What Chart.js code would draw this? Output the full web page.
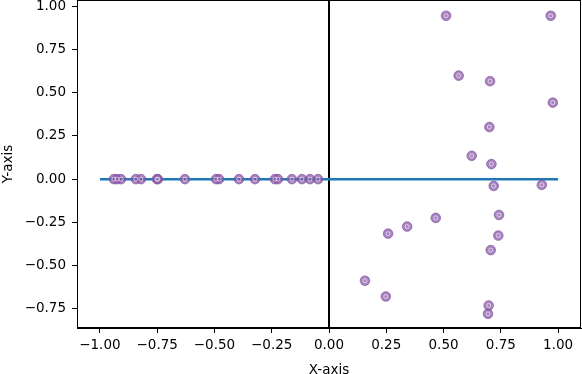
<!DOCTYPE html>
<html>
<head>
<meta charset="utf-8">
<script src="https://cdn.jsdelivr.net/npm/chart.js@4/dist/chart.umd.min.js"></script>
<style>
  html, body { margin: 0; padding: 0; background: #fff; }
  #wrap { width: 582px; height: 374px; }
</style>
</head>
<body>
<div id="wrap"><canvas id="myChart"></canvas></div>
<script>
// points lying on the y = 0 line (left half)
const lineXs = [-0.939, -0.926, -0.908, -0.843, -0.821, -0.751, -0.747, -0.629, -0.493, -0.480,
                -0.393, -0.323, -0.236, -0.223, -0.162, -0.118, -0.083, -0.048];
// scattered points (right half)
const scatterXs = [0.511, 0.968, 0.566, 0.703, 0.977, 0.700, 0.623, 0.709, 0.719, 0.929,
                   0.742, 0.341, 0.466, 0.258, 0.739, 0.706, 0.157, 0.248, 0.697, 0.694];
const scatterYs = [0.944, 0.944, 0.598, 0.566, 0.442, 0.301, 0.135, 0.087, -0.039, -0.033,
                   -0.207, -0.274, -0.224, -0.315, -0.326, -0.410, -0.587, -0.678, -0.730, -0.778];
// horizontal reference line
const hLineXs = [-1, 1];
const hLineYs = [0, 0];
// tick labels
const xTicks = [-1, -0.75, -0.5, -0.25, 0, 0.25, 0.5, 0.75, 1];
const yTicks = [-0.75, -0.5, -0.25, 0, 0.25, 0.5, 0.75, 1];

var points = [];
lineXs.forEach(function(x){ points.push({x: x, y: 0}); });
scatterXs.forEach(function(x, i){ points.push({x: x, y: scatterYs[i]}); });

var purple = 'rgba(135, 85, 165, 0.72)';
var fmt = function(v){ return v.toFixed(2).replace('-', '\u2212'); };
var font = {family: 'DejaVu Sans', size: 13.5};

//box around the plot and the x = 0 line
var framePlugin = {
	id: 'frame',
	beforeDatasetsDraw: function(chart){
		var a = chart.chartArea, ctx = chart.ctx;
		var x0 = chart.scales.x.getPixelForValue(0);
		ctx.save();
		ctx.strokeStyle = '#000';
		ctx.lineWidth = 2;
		ctx.beginPath();
		ctx.moveTo(x0, a.top);
		ctx.lineTo(x0, a.bottom);
		ctx.stroke();
		ctx.restore();
	},
	afterDraw: function(chart){
		var a = chart.chartArea, ctx = chart.ctx;
		ctx.save();
		ctx.strokeStyle = '#000';
		ctx.lineWidth = 1;
		ctx.strokeRect(a.left + 0.5, a.top + 0.5, a.right - a.left - 1, a.bottom - a.top - 1);
		ctx.restore();
	}
};

var ctx = document.getElementById('myChart').getContext('2d');
var myChart = new Chart(ctx, {
	type: 'scatter',
	data: {
		datasets: [{
			data: points,
			pointStyle: 'circle',
			pointRadius: 4.8,
			pointBorderWidth: 1,
			borderColor: purple,
			backgroundColor: purple,
			order: 1
		}, {
			data: points,
			pointStyle: 'circle',
			pointRadius: 2,
			pointBorderWidth: 1,
			borderColor: 'rgba(255, 255, 255, 0.6)',
			backgroundColor: 'rgba(0, 0, 0, 0)',
			order: 0
		}, {
			type: 'line',
			data: hLineXs.map(function(x, i){ return {x: x, y: hLineYs[i]}; }),
			borderColor: '#1f77b4',
			borderWidth: 2.5,
			pointRadius: 0,
			order: 2
		}]
	},
	options: {
		responsive: true,
		maintainAspectRatio: false,
		animation: false,
		layout: { autoPadding: false, padding: { top: 0, right: 1, left: 0, bottom: 0 } },
		plugins: { legend: { display: false }, tooltip: { enabled: false } },
		scales: {
			x: {
				type: 'linear',
				min: -1.1, max: 1.1,
				afterBuildTicks: function(s){ s.ticks = xTicks.map(function(v){ return {value: v}; }); },
				afterFit: function(s){ s.height = 46; s.paddingLeft = 0; s.paddingRight = 0; },
				ticks: { color: '#000', font: font, padding: 4, maxRotation: 0, callback: fmt },
				grid: { drawOnChartArea: false, drawTicks: true, tickLength: 5, color: '#000' },
				border: { display: true, color: '#000' },
				title: { display: true, text: 'X-axis', color: '#000', font: font, padding: { top: 0, bottom: -5 } }
			},
			y: {
				type: 'linear',
				min: -0.86, max: 1.035,
				afterBuildTicks: function(s){ s.ticks = yTicks.map(function(v){ return {value: v}; }); },
				afterFit: function(s){ s.width = 77; s.paddingTop = 0; s.paddingBottom = 0; },
				ticks: { color: '#000', font: font, padding: 6, callback: fmt },
				grid: { drawOnChartArea: false, drawTicks: true, tickLength: 5, color: '#000' },
				border: { display: true, color: '#000' },
				title: { display: true, text: 'Y-axis', color: '#000', font: font, padding: { top: 0, bottom: 0 } }
			}
		}
	},
	plugins: [framePlugin]
});
</script>
</body>
</html>
